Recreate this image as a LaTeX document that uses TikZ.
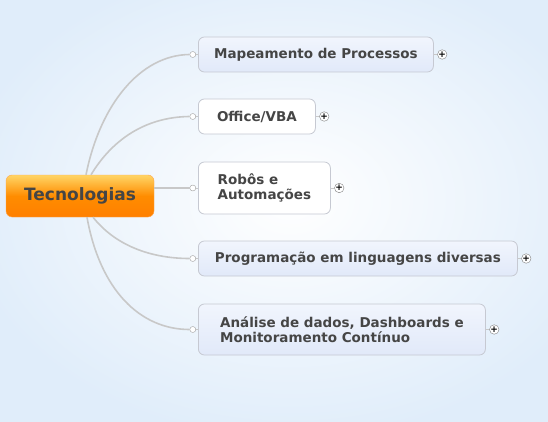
\documentclass[tikz,border=0pt]{standalone}
\usepackage{fontspec}
\usepackage{xcolor}
\setmainfont{DejaVu Sans}
\usetikzlibrary{positioning}
\definecolor{bgblue}{HTML}{E0EDFA}
\definecolor{linegray}{HTML}{C8C8C8}
\definecolor{boxgray}{HTML}{C6C9D2}
\definecolor{txtgray}{HTML}{454545}
\definecolor{topblue}{HTML}{F1F5FD}
\definecolor{botblue}{HTML}{E1E9F9}

\begin{document}
\begin{tikzpicture}[
            x=1pt, y=-1pt,
            central/.style={rectangle, rounded corners=6pt, draw=orange!70!white,
                top color=orange!55!yellow!60!white, bottom color=orange, middle color=orange!90!yellow,
                minimum width=148pt, minimum height=42pt, text=txtgray,
                font=\bfseries\fontsize{17}{19}\selectfont},
            topic/.style={rectangle, rounded corners=6pt, draw=boxgray, line width=0.8pt,
                top color=topblue, bottom color=botblue, minimum height=35pt, anchor=west,
                align=left, text=txtgray, font=\bfseries\fontsize{13.5}{15.5}\selectfont},
            plain/.style={topic, top color=white, bottom color=white},
            knob/.style={circle, draw=linegray!80!black, fill=white, inner sep=0pt, minimum size=6pt},
            plus/.style={circle, draw=gray, fill=white, inner sep=0pt, minimum size=9.5pt,
                font=\bfseries\fontsize{9}{9}\selectfont},
            link/.style={draw=linegray, line width=1.6pt},
            stub/.style={draw=linegray, line width=0.8pt}
        ]
            \useasboundingbox (0,0) rectangle (548,422);
            \shade[inner color=white, outer color=bgblue] (-40,-40) rectangle (620,440);

            \node[central] (C) at (80,196) {Tecnologias};

            \node[topic, minimum width=235pt] (T1) at (198,54.5) {Mapeamento de Processos};
            \node[plain, minimum width=117pt] (T2) at (198,116.5) {Office/VBA};
            \node[plain, minimum width=132pt, minimum height=52pt] (T3) at (198,188) {Robôs e\\Automações};
            \node[topic, minimum width=319pt] (T4) at (198,258.5) {Programação em linguagens diversas};
            \node[topic, minimum width=287pt, minimum height=51pt] (T5) at (198,329.5) {Análise de dados, Dashboards e\\Monitoramento Contínuo};

            \node[knob, left=2pt of T1] (K1) {};
            \node[knob, left=2pt of T2] (K2) {};
            \node[knob, left=2pt of T3] (K3) {};
            \node[knob, left=2pt of T4] (K4) {};
            \node[knob, left=2pt of T5] (K5) {};

            \node[plus, right=3.5pt of T1] (P1) {+};
            \node[plus, right=3.5pt of T2] (P2) {+};
            \node[plus, right=3.5pt of T3] (P3) {+};
            \node[plus, right=3.5pt of T4] (P4) {+};
            \node[plus, right=3.5pt of T5] (P5) {+};

            \draw[link] ([xshift=6pt]C.north) .. controls (100,105) and (140,55) .. (K1.west);
            \draw[link] ([xshift=11pt]C.north) .. controls (112,140) and (145,117) .. (K2.west);
            \draw[link] (C.east |- K3) -- (K3.west);
            \draw[link] ([xshift=13pt]C.south) .. controls (115,245) and (150,258.5) .. (K4.west);
            \draw[link] ([xshift=7pt]C.south) .. controls (100,290) and (140,329.5) .. (K5.west);

            \foreach \i in {1,...,5} {
                \draw[stub] (K\i) -- (T\i.west);
                \draw[stub] (T\i.east) -- (P\i);
            }
        \end{tikzpicture}
\end{document}
